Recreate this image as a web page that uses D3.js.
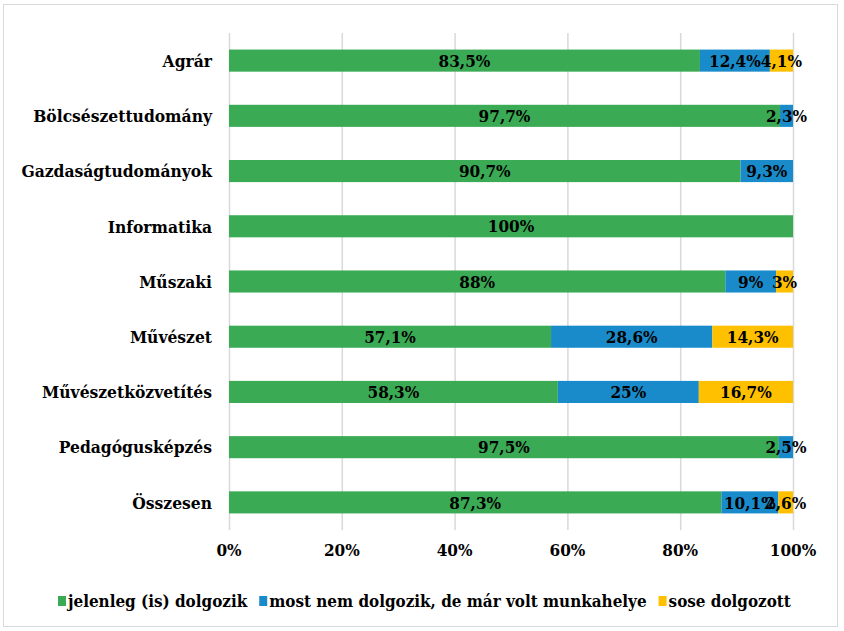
<!DOCTYPE html>
<html>
<head>
<meta charset="utf-8">
<script src="https://cdn.jsdelivr.net/npm/d3@7"></script>
<style>
  body { margin: 0; background: #fff; }
  text { font-family: "DejaVu Serif Condensed", "DejaVu Serif", serif; font-weight: bold; fill: #000; }
</style>
</head>
<body>
<div class="chartDiv"></div>
<script>
// Kategóriák és sorozatok
let categories = ["Agrár", "Bölcsészettudomány", "Gazdaságtudományok", "Informatika", "Műszaki",
                  "Művészet", "Művészetközvetítés", "Pedagógusképzés", "Összesen"];
let seriesNames = ["jelenleg (is) dolgozik", "most nem dolgozik, de már volt munkahelye", "sose dolgozott"];
let working = [83.5, 97.7, 90.7, 100, 88, 57.1, 58.3, 97.5, 87.3];
let formerly = [12.4, 2.3, 9.3, 0, 9, 28.6, 25, 2.5, 10.1];
let never = [4.1, 0, 0, 0, 3, 14.3, 16.7, 0, 2.6];
let ticks = [0, 20, 40, 60, 80, 100];
let colors = ["#3aaa55", "#1a8bca", "#ffc000"];

let svgWidth = 844, svgHeight = 631;
let margin = { top: 33, bottom: 101, left: 229, right: 51 };
let graphWidth = svgWidth - margin.left - margin.right;
let graphHeight = svgHeight - margin.top - margin.bottom;

let svg = d3.select('.chartDiv').append('svg')
            .attr('width', svgWidth).attr('height', svgHeight);

svg.append('rect')
   .attr('x', 3.5).attr('y', 4.5).attr('width', 834).attr('height', 622)
   .attr('fill', 'none').attr('stroke', '#d9d9d9');

let chartGroup = svg.append('g')
                    .attr('transform', `translate(${margin.left}, ${margin.top})`);

let xScale = d3.scaleLinear().domain([0, 100]).range([0, graphWidth]);
let yScale = d3.scaleBand().domain(categories).range([0, graphHeight]).paddingInner(0.6).paddingOuter(0.3);

// rácsvonalak
chartGroup.selectAll('.grid').data(ticks).enter().append('line')
          .attr('x1', d => xScale(d) + 0.5).attr('x2', d => xScale(d) + 0.5)
          .attr('y1', 0).attr('y2', graphHeight)
          .attr('stroke', '#d9d9d9').attr('stroke-width', 1.5);

let table = categories.map((c, i) => ({ cat: c, s0: working[i], s1: formerly[i], s2: never[i] }));
let stacked = d3.stack().keys(['s0', 's1', 's2'])(table);

let fmt = v => String(v).replace('.', ',') + '%';

stacked.forEach((layer, k) => {
  let g = chartGroup.append('g');
  g.selectAll('rect').data(layer).enter().append('rect')
   .attr('x', d => xScale(d[0]))
   .attr('width', d => xScale(d[1]) - xScale(d[0]))
   .attr('y', d => yScale(d.data.cat))
   .attr('height', yScale.bandwidth())
   .attr('fill', colors[k]);
});

stacked.forEach((layer, k) => {
  chartGroup.append('g').selectAll('text').data(layer.filter(d => d[1] - d[0] > 0)).enter().append('text')
   .attr('x', d => xScale((d[0] + d[1]) / 2))
   .attr('y', d => yScale(d.data.cat) + yScale.bandwidth() / 2)
   .attr('dy', '0.36em')
   .attr('text-anchor', 'middle')
   .style('font-size', '17px')
   .text(d => fmt(d[1] - d[0] === 100 ? 100 : +(d[1] - d[0]).toFixed(1)));
});

// kategória címkék
chartGroup.selectAll('.cat').data(categories).enter().append('text')
          .attr('x', -17)
          .attr('y', d => yScale(d) + yScale.bandwidth() / 2)
          .attr('dy', '0.36em')
          .attr('text-anchor', 'end')
          .style('font-size', '17.3px')
          .text(d => d);

// x tengely címkék
chartGroup.selectAll('.tick').data(ticks).enter().append('text')
          .attr('x', d => xScale(d))
          .attr('y', graphHeight + 26)
          .attr('text-anchor', 'middle')
          .style('font-size', '17px')
          .text(d => d + '%');

// jelmagyarázat
let legend = svg.append('g').attr('transform', 'translate(0, 601)');
let lx = 58;
seriesNames.forEach((name, k) => {
  let item = legend.append('g').attr('transform', `translate(${lx}, 0)`);
  item.append('rect').attr('x', 0).attr('y', -5).attr('width', 8).attr('height', 10).attr('fill', colors[k]);
  let t = item.append('text').attr('x', 10).attr('dy', '0.33em').style('font-size', '16.9px').text(name);
  lx += 10 + t.node().getComputedTextLength() + 12;
});
</script>
</body>
</html>
